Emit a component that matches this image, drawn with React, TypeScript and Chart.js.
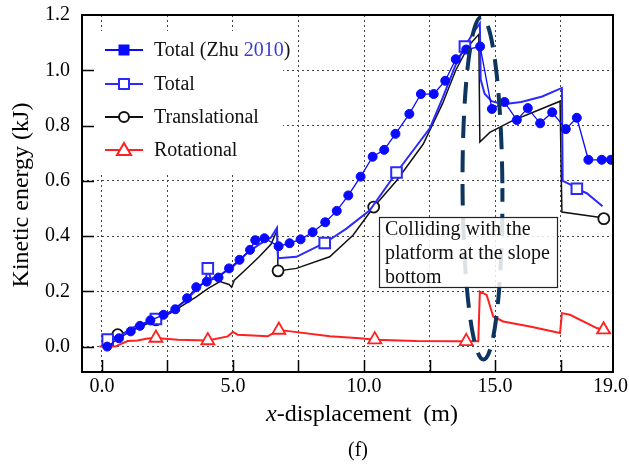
import React, { useEffect, useRef } from 'react';
import { Chart, registerables } from 'chart.js';

Chart.register(...registerables);

// ---------- data ----------
const zhuX = [0.2, 0.65, 1.1, 1.45, 1.85, 2.35, 2.8, 3.25, 3.6, 4.0, 4.45, 4.85, 5.25, 5.65, 5.85, 6.2, 6.74, 7.16, 7.58, 8.04, 8.52, 8.96, 9.4, 9.87, 10.33, 10.77, 11.2, 11.73, 12.17, 12.66, 13.1, 13.5, 13.9, 14.43, 14.88, 15.36, 15.83, 16.25, 16.72, 17.18, 17.7, 18.12, 18.56, 19.07, 19.42];
const zhuY = [0.0, 0.03, 0.055, 0.075, 0.095, 0.115, 0.135, 0.175, 0.215, 0.235, 0.25, 0.283, 0.314, 0.35, 0.385, 0.392, 0.363, 0.374, 0.388, 0.414, 0.45, 0.491, 0.547, 0.615, 0.687, 0.712, 0.77, 0.842, 0.914, 0.914, 0.962, 1.04, 1.075, 1.086, 0.86, 0.885, 0.82, 0.863, 0.808, 0.848, 0.787, 0.828, 0.676, 0.676, 0.676];

const totalX = [0.1, 0.22, 0.7, 1.3, 2.06, 2.6, 3.1, 3.6, 3.95, 4.04, 4.15, 4.6, 5.0, 5.5, 6.0, 6.45, 6.68, 6.72, 7.42, 8.5, 9.33, 10.22, 11.24, 12.51, 13.0, 13.5, 13.85, 14.2, 14.42, 14.45, 14.6, 14.87, 15.3, 16.0, 16.8, 17.55, 17.58, 17.9, 18.12, 18.5, 19.1];
const totalY = [0.0, 0.025, 0.04, 0.075, 0.1, 0.125, 0.16, 0.205, 0.24, 0.283, 0.245, 0.265, 0.29, 0.335, 0.37, 0.395, 0.43, 0.32, 0.325, 0.375, 0.427, 0.493, 0.63, 0.79, 0.9, 1.02, 1.086, 1.14, 1.17, 0.967, 0.915, 0.888, 0.877, 0.885, 0.905, 0.936, 0.6, 0.585, 0.571, 0.555, 0.508];
const totalMarkerIdx = [1, 4, 9, 19, 22, 26, 38];

const transX = [0.1, 0.6, 1.2, 2.06, 2.6, 3.1, 3.6, 4.04, 4.5, 4.85, 4.95, 5.05, 5.5, 6.0, 6.45, 6.68, 6.72, 7.42, 8.69, 9.58, 10.37, 11.24, 12.26, 13.0, 13.5, 14.0, 14.38, 14.42, 14.8, 15.65, 16.5, 17.48, 17.55, 18.9, 19.15];
const transY = [0.0, 0.043, 0.06, 0.097, 0.12, 0.15, 0.18, 0.21, 0.235, 0.225, 0.215, 0.24, 0.28, 0.325, 0.37, 0.42, 0.274, 0.283, 0.325, 0.403, 0.505, 0.6, 0.733, 0.88, 1.0, 1.09, 1.13, 0.74, 0.775, 0.817, 0.85, 0.888, 0.487, 0.469, 0.463];
const transMarkerIdx = [1, 3, 16, 20, 34];

const rotX = [-0.1, 0.5, 0.98, 1.36, 1.74, 2.06, 2.9, 4.04, 4.8, 5.0, 5.18, 6.33, 6.75, 7.2, 8.7, 9.84, 10.41, 12.0, 13.66, 13.9, 14.36, 14.42, 14.68, 14.93, 15.31, 16.33, 17.48, 17.55, 17.86, 18.88, 19.14, 19.4];
const rotY = [0.0, 0.0, 0.02, 0.022, 0.029, 0.031, 0.025, 0.022, 0.037, 0.053, 0.043, 0.037, 0.06, 0.055, 0.037, 0.03, 0.025, 0.02, 0.019, 0.019, 0.019, 0.199, 0.187, 0.109, 0.091, 0.073, 0.049, 0.121, 0.115, 0.067, 0.061, 0.049];
const rotMarkerIdx = [5, 7, 12, 16, 19, 30];

const xTickValues = [0, 2.5, 5, 7.5, 10, 12.5, 15, 17.5, 19.4];
const xTickLabels = ['0.0', '', '5.0', '', '10.0', '', '15.0', '', '19.0'];
const yTickValues = [0, 0.2, 0.4, 0.6, 0.8, 1.0, 1.2];
const yTickLabels = ['0.0', '0.2', '0.4', '0.6', '0.8', '1.0', '1.2'];

const legendLabels = ['Total', 'Total', 'Translational', 'Rotational'];
const zhuRef = ['(Zhu ', '2010', ')'];
const annotationLines = ['Colliding with the', 'platform at the slope', 'bottom'];
const xTitleItalic = 'x';
const xTitleRest = '-displacement  (m)';
const yTitle = 'Kinetic energy (kJ)';
const caption = '(f)';

// ---------- styles ----------
const SERIF = '"Liberation Serif", "Times New Roman", serif';
const BLUE_ZHU = '#0a0aff';
const BLUE_TOTAL = '#2a2aff';
const BLACK = '#111111';
const RED = '#ff2020';
const NAVY = '#0d3560';

const toPts = (xs: number[], ys: number[]) => xs.map((x, i) => ({ x, y: ys[i] }));

const decorations = {
  id: 'decorations',
  afterDatasetsDraw(chart: any) {
    const { ctx, scales } = chart;
    const xs = scales.x;
    const ys = scales.y;
    // dashed ellipse around the collision
    ctx.save();
    const cx = xs.getPixelForValue(14.52);
    const cy = ys.getPixelForValue(0.573);
    const rx = xs.getPixelForValue(14.52 + 0.76) - cx;
    const ry = cy - ys.getPixelForValue(0.573 + 0.62);
    ctx.setLineDash([22, 12]);
    ctx.lineDashOffset = 8;
    ctx.lineWidth = 4;
    ctx.strokeStyle = NAVY;
    ctx.beginPath();
    ctx.ellipse(cx, cy, rx, ry, -0.006, 0, Math.PI * 2);
    ctx.stroke();
    ctx.restore();

    // annotation box
    ctx.save();
    const bx = 379, by = 217, bw = 178, bh = 70;
    ctx.fillStyle = 'rgba(255,255,255,0.85)';
    ctx.fillRect(bx, by, bw, bh);
    ctx.lineWidth = 1.2;
    ctx.strokeStyle = '#222';
    ctx.strokeRect(bx + 0.5, by + 0.5, bw, bh);
    ctx.fillStyle = '#111';
    ctx.font = `20px ${SERIF}`;
    ctx.textBaseline = 'middle';
    ctx.textAlign = 'left';
    annotationLines.forEach((t, i) => ctx.fillText(t, 385, 230 + i * 24));
    ctx.restore();

    // legend
    ctx.save();
    ctx.fillStyle = '#ffffff';
    ctx.fillRect(83, 31, 200, 141);
    const rows = [50, 84, 117, 150];
    const colors = [BLUE_ZHU, BLUE_TOTAL, BLACK, RED];
    rows.forEach((ry2, i) => {
      ctx.lineWidth = 2;
      ctx.strokeStyle = colors[i];
      ctx.setLineDash([]);
      ctx.beginPath();
      ctx.moveTo(105, ry2);
      ctx.lineTo(143, ry2);
      ctx.stroke();
      const mx = 124;
      ctx.fillStyle = '#fff';
      ctx.beginPath();
      if (i === 0) {
        ctx.fillStyle = colors[i];
        ctx.fillRect(mx - 5.5, ry2 - 5.5, 11, 11);
      } else if (i === 1) {
        ctx.rect(mx - 5, ry2 - 5, 10, 10);
        ctx.fill();
        ctx.stroke();
      } else if (i === 2) {
        ctx.arc(mx, ry2, 5, 0, Math.PI * 2);
        ctx.fill();
        ctx.stroke();
      } else {
        ctx.moveTo(mx, ry2 - 7);
        ctx.lineTo(mx + 7, ry2 + 5);
        ctx.lineTo(mx - 7, ry2 + 5);
        ctx.closePath();
        ctx.fill();
        ctx.stroke();
      }
      ctx.font = `20px ${SERIF}`;
      ctx.textBaseline = 'middle';
      ctx.textAlign = 'left';
      ctx.fillStyle = '#111';
      let tx = 154;
      ctx.fillText(legendLabels[i], tx, ry2 + 1);
      if (i === 0) {
        tx += ctx.measureText(legendLabels[i] + ' ').width;
        ctx.fillText(zhuRef[0], tx, ry2 + 1);
        tx += ctx.measureText(zhuRef[0]).width;
        ctx.fillStyle = '#3a3ad8';
        ctx.fillText(zhuRef[1], tx, ry2 + 1);
        tx += ctx.measureText(zhuRef[1]).width;
        ctx.fillStyle = '#111';
        ctx.fillText(zhuRef[2], tx, ry2 + 1);
      }
    });
    ctx.restore();
  },
  afterDraw(chart: any) {
    const { ctx, chartArea, scales } = chart;
    const { left, right, top, bottom } = chartArea;
    ctx.save();
    // inward ticks
    ctx.strokeStyle = '#000';
    ctx.lineWidth = 1.5;
    ctx.beginPath();
    xTickValues.slice(0, -1).forEach((v) => {
      const px = Math.round(scales.x.getPixelForValue(v)) + 0.5;
      ctx.moveTo(px, bottom);
      ctx.lineTo(px, bottom - 12);
    });
    yTickValues.slice(0, -1).forEach((v) => {
      const py = Math.round(scales.y.getPixelForValue(v)) + 0.5;
      ctx.moveTo(left, py);
      ctx.lineTo(left + 12, py);
    });
    ctx.stroke();
    // frame
    ctx.lineWidth = 2;
    ctx.strokeStyle = '#000';
    ctx.strokeRect(left, top, right - left, bottom - top);

    // axis titles
    ctx.fillStyle = '#000';
    ctx.textBaseline = 'middle';
    ctx.font = `italic 24px ${SERIF}`;
    const wItal = ctx.measureText(xTitleItalic).width;
    ctx.font = `24px ${SERIF}`;
    const wRest = ctx.measureText(xTitleRest).width;
    const startX = 362 - (wItal + wRest) / 2;
    ctx.textAlign = 'left';
    ctx.font = `italic 24px ${SERIF}`;
    ctx.fillText(xTitleItalic, startX, 415);
    ctx.font = `24px ${SERIF}`;
    ctx.fillText(xTitleRest, startX + wItal, 415);

    ctx.font = `20px ${SERIF}`;
    ctx.textAlign = 'center';
    ctx.fillText(caption, 358, 451);

    ctx.translate(22, 195);
    ctx.rotate(-Math.PI / 2);
    ctx.font = `24px ${SERIF}`;
    ctx.textAlign = 'center';
    ctx.fillText(yTitle, 0, 0);
    ctx.restore();
  },
};

export default function App() {
  const ref = useRef<HTMLCanvasElement>(null);
  useEffect(() => {
    if (!ref.current) return;
    const markerRadius = (idx: number[], r: number) => (c: any) => (idx.includes(c.dataIndex) ? r : 0);
    const chart = new Chart(ref.current, {
      type: 'line',
      data: {
        datasets: [
          {
            label: 'Total (Zhu 2010)',
            data: toPts(zhuX, zhuY),
            borderColor: BLUE_ZHU,
            backgroundColor: BLUE_ZHU,
            borderWidth: 1.3,
            pointStyle: 'circle',
            pointRadius: 4.5,
            pointBackgroundColor: BLUE_ZHU,
            pointBorderColor: BLUE_ZHU,
            pointBorderWidth: 1,
            tension: 0,
          },
          {
            label: 'Total',
            data: toPts(totalX, totalY),
            borderColor: BLUE_TOTAL,
            borderWidth: 2,
            pointStyle: 'rect',
            pointRadius: markerRadius(totalMarkerIdx, 7.5),
            pointBackgroundColor: '#ffffff',
            pointBorderColor: BLUE_TOTAL,
            pointBorderWidth: 2,
            tension: 0,
          },
          {
            label: 'Translational',
            data: toPts(transX, transY),
            borderColor: BLACK,
            borderWidth: 1.5,
            pointStyle: 'circle',
            pointRadius: markerRadius(transMarkerIdx, 5.5),
            pointBackgroundColor: '#ffffff',
            pointBorderColor: BLACK,
            pointBorderWidth: 1.8,
            tension: 0,
          },
          {
            label: 'Rotational',
            data: toPts(rotX, rotY),
            borderColor: RED,
            borderWidth: 2,
            pointStyle: 'triangle',
            pointRadius: markerRadius(rotMarkerIdx, 7.5),
            pointBackgroundColor: '#ffffff',
            pointBorderColor: RED,
            pointBorderWidth: 1.8,
            tension: 0,
          },
        ],
      },
      options: {
        responsive: false,
        animation: false,
        devicePixelRatio: 1,
        layout: { padding: { left: 0, right: 16, top: 15, bottom: 0 } },
        plugins: { legend: { display: false }, tooltip: { enabled: false } },
        scales: {
          x: {
            type: 'linear',
            min: -0.76,
            max: 19.5,
            afterBuildTicks: (s: any) => {
              s.ticks = xTickValues.map((v) => ({ value: v }));
            },
            afterFit: (s: any) => {
              s.height = 93;
              s.paddingLeft = 0;
              s.paddingRight = 0;
            },
            grid: {
              color: (c: any) => (c.index === xTickValues.length - 1 ? 'rgba(0,0,0,0)' : '#444'),
              lineWidth: 1,
              drawTicks: false,
            },
            border: { display: false, dash: [2, 3] },
            ticks: {
              autoSkip: false,
              maxRotation: 0,
              padding: 3,
              color: '#000',
              font: { family: SERIF, size: 20 },
              callback: (_v: any, i: number) => xTickLabels[i],
            },
          },
          y: {
            type: 'linear',
            min: -0.092,
            max: 1.2,
            afterBuildTicks: (s: any) => {
              s.ticks = yTickValues.map((v) => ({ value: v }));
            },
            afterFit: (s: any) => {
              s.width = 82;
              s.paddingTop = 0;
              s.paddingBottom = 0;
            },
            grid: { color: '#444', lineWidth: 1, drawTicks: false },
            border: { display: false, dash: [2, 3] },
            ticks: {
              padding: 12,
              color: '#000',
              font: { family: SERIF, size: 20 },
              callback: (_v: any, i: number) => yTickLabels[i],
            },
          },
        },
      },
      plugins: [decorations],
    } as any);
    return () => chart.destroy();
  }, []);

  return (
    <div style={{ position: 'absolute', left: 0, top: 0, width: 629, height: 465, background: '#fff' }}>
      <canvas ref={ref} width={629} height={465} />
    </div>
  );
}
